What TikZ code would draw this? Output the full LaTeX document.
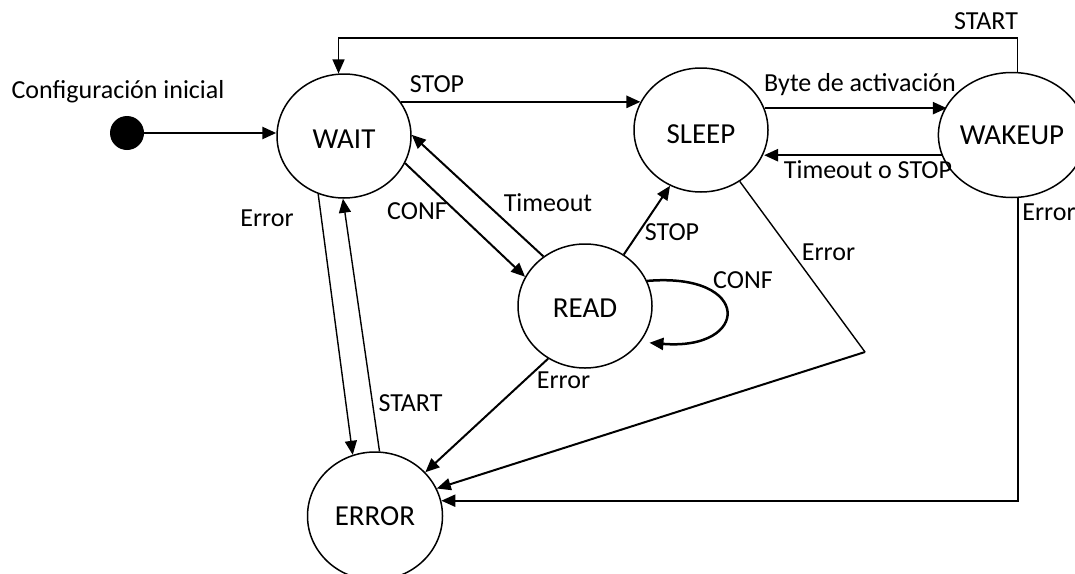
\documentclass[tikz,border=0pt]{standalone}
\usepackage{fontspec}
\setmainfont{Carlito}
\usetikzlibrary{arrows.meta,shapes.geometric}
\newcommand\statefont{\fontsize{29pt}{34pt}\selectfont}
\newcommand\lblfont{\fontsize{26pt}{31pt}\selectfont}

\begin{document}
\begin{tikzpicture}[x=1pt,y=-1pt,
  state/.style={draw, ellipse, line width=1.5pt, minimum width=134pt,
    minimum height=124pt, inner sep=0pt, font=\statefont, text depth=0pt},
  lbl/.style={font=\lblfont, inner sep=0pt, text height=16.4pt, text depth=0pt},
  tip/.style={-{Triangle[length=14pt,width=12pt]}},
  heavy/.style={line width=2.5pt},
  mid/.style={line width=2pt},
  light/.style={line width=1.4pt},
]
\useasboundingbox (0,0) rectangle (1075,573);
\clip (0,0) rectangle (1075,573);

% states
\node[circle, fill, minimum size=34pt, inner sep=0pt] (init) at (127,133) {};
\node[state, text height=24pt] (WAIT) at (344,136) {WAIT};
\node[state, text height=27pt] (SLEEP) at (701,130) {SLEEP};
\node[state, text height=18pt, minimum width=130pt, minimum height=125pt] (WAKEUP) at (1012,135) {WAKEUP};
\node[state, text height=23pt] (READ) at (585,306) {READ};
\node[state, text height=19pt, minimum width=135pt, minimum height=128pt] (ERROR) at (375,516) {ERROR};
\coordinate (errCorner) at (865,352);

% transitions
\draw[heavy, tip] (init.east) -- (init.east -| WAIT.west);
\draw[heavy, tip] (WAIT.31) -- (WAIT.31 -| SLEEP.155);
\draw[heavy, tip] (SLEEP.19) -- (SLEEP.19 -| WAKEUP.155);
\draw[heavy, tip] (WAKEUP.-164) -- (WAKEUP.-164 -| SLEEP.-20);
\draw[light, tip] (WAKEUP.85) -- ++(0,-34) -| (WAIT.95);
\draw[mid, tip] (WAKEUP.-85) |- (ERROR.13);
\draw[mid, tip] (WAIT.-24) -- (READ.154);
\draw[mid, tip] (READ.130) -- (WAIT.1);
\draw[mid, tip] (READ.53) -- (SLEEP.-119);
\draw[heavy, tip, shorten >=9pt] (READ.22) .. controls +(106,-9) and +(110,9) .. (READ.-33);
\draw[light, tip] (WAIT.-114) -- (ERROR.110);
\draw[light, tip] (ERROR.86) -- (WAIT.-91);
\draw[mid, tip] (READ.-125) -- (ERROR.41);
\draw[light] (SLEEP.-53) -- (errCorner);
\draw[mid, tip] (errCorner) -- (ERROR.24);

% labels
\node[lbl] (lInit) at (118,90) {Configuración inicial};
\node[lbl] (lStopW) at (437,84) {STOP};
\node[lbl] (lByte) at (860,83) {Byte de activación};
\node[lbl] (lTimeS) at (868,170) {Timeout o STOP};
\node[lbl] (lStartK) at (986,21) {START};
\node[lbl] (lErrK) at (1049,212.5) {Error};
\node[lbl] (lErrW) at (267,218.5) {Error};
\node[lbl] (lConfW) at (417,211) {CONF};
\node[lbl] (lTimeR) at (548,203.5) {Timeout};
\node[lbl] (lStopR) at (672,232.5) {STOP};
\node[lbl] (lConfR) at (743,280.5) {CONF};
\node[lbl] (lErrS) at (828.5,252) {Error};
\node[lbl] (lErrR) at (563.5,380.5) {Error};
\node[lbl] (lStartE) at (410.5,403.5) {START};
\end{tikzpicture}
\end{document}
